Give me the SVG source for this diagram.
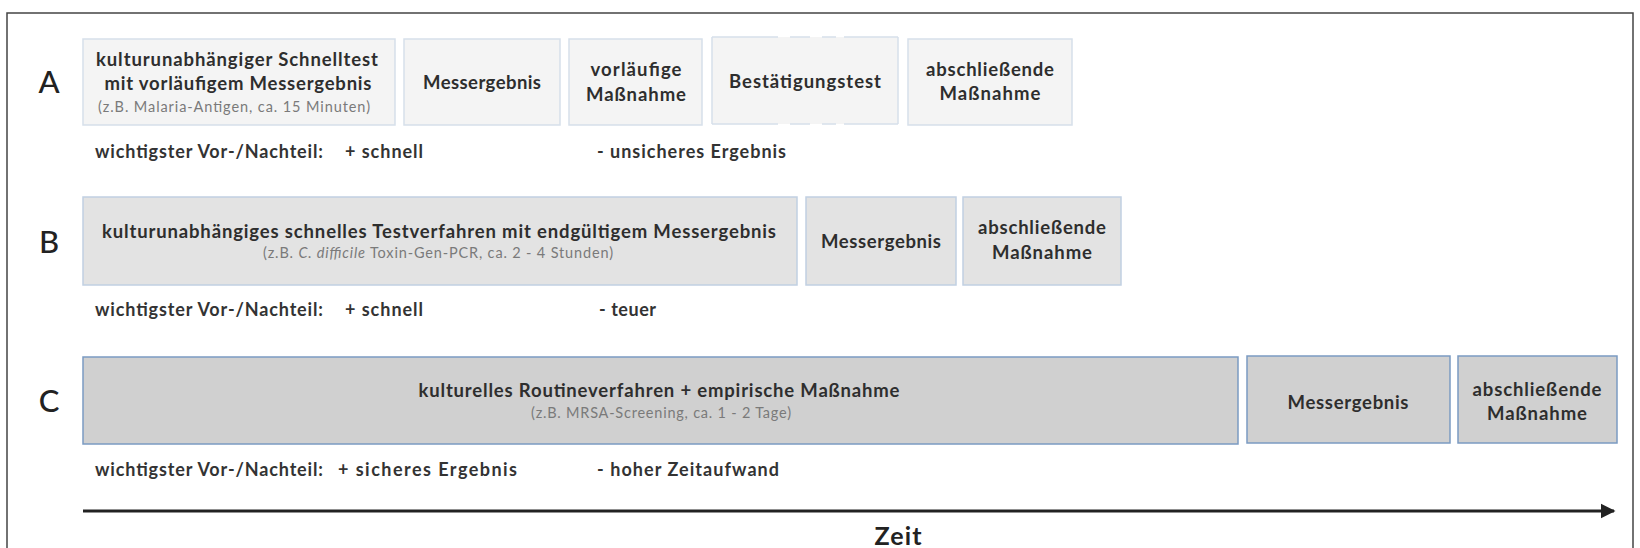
<svg xmlns="http://www.w3.org/2000/svg" width="1640" height="548" viewBox="0 0 1640 548">
<defs>
<style>
.t{font-family:Lato,"Liberation Sans",sans-serif;font-weight:700;fill:#2e2e2e;font-size:18.5px;text-anchor:middle}
.s{font-family:Lato,"Liberation Sans",sans-serif;font-weight:400;fill:#7a7a7a;font-size:14.5px;text-anchor:middle}
.r{font-family:Lato,"Liberation Sans",sans-serif;font-weight:700;fill:#333;font-size:18px}
.L{font-family:Lato,"Liberation Sans",sans-serif;font-weight:500;fill:#222;font-size:31px;text-anchor:middle}
.ba{fill:#f4f4f4;stroke:#d6dfea;stroke-width:1.5}
.bb{fill:#e3e3e3;stroke:#c1d0e2;stroke-width:1.5}
.bc{fill:#d0d0d0;stroke:#7b9bc2;stroke-width:1.5}
</style>
<marker id="ah" viewBox="0 0 10 10" refX="9" refY="5" markerWidth="5" markerHeight="5.5" orient="auto" markerUnits="strokeWidth">
<path d="M0,0 L10,5 L0,10 Z" fill="#222"/>
</marker>
</defs>
<rect width="1640" height="548" fill="#fff"/>
<path d="M7,548 V13 H1633 V548" fill="none" stroke="#444" stroke-width="1.5"/>

<g id="labels">
<text class="L" x="49" y="93">A</text>
<text class="L" x="49" y="253">B</text>
<text class="L" x="49" y="412">C</text>
</g>

<g id="rowA">
<g id="A1"><rect class="ba" x="83" y="39" width="312" height="86"/>
<text class="t" x="237" y="66" textLength="282">kulturunabhängiger Schnelltest</text>
<text class="t" x="238" y="90" textLength="267">mit vorläufigem Messergebnis</text>
<text class="s" x="234" y="112" textLength="272">(z.B. Malaria-Antigen, ca. 15 Minuten)</text></g>
<g id="A2"><rect class="ba" x="404" y="39" width="156" height="86"/>
<text class="t" x="482" y="89" textLength="118">Messergebnis</text></g>
<g id="A3"><rect class="ba" x="569" y="39" width="133" height="86"/>
<text class="t" x="636" y="76" textLength="91">vorläufige</text>
<text class="t" x="636" y="101" textLength="100">Maßnahme</text></g>
<g id="A4"><rect x="712" y="37" width="186" height="87" fill="#f4f4f4"/>
<path d="M712,37 V124 M898,37 V124 M712,37 H778 M790,37 H810 M822,37 H836 M844,37 H898 M712,124 H778 M790,124 H810 M822,124 H836 M844,124 H898" fill="none" stroke="#d6dfea" stroke-width="1.5"/>
<text class="t" x="805" y="88" textLength="152">Bestätigungstest</text></g>
<g id="A5"><rect class="ba" x="908" y="39" width="164" height="86"/>
<text class="t" x="990" y="76" textLength="128">abschließende</text>
<text class="t" x="990" y="100" textLength="101">Maßnahme</text></g>
<text class="r" x="95" y="158" textLength="228">wichtigster Vor-/Nachteil:</text>
<text class="r" x="345" y="158" textLength="78">+ schnell</text>
<text class="r" x="597" y="158" textLength="189">- unsicheres Ergebnis</text>
</g>

<g id="rowB">
<g id="B1"><rect class="bb" x="83" y="197" width="714" height="88"/>
<text class="t" x="439" y="238" textLength="674">kulturunabhängiges schnelles Testverfahren mit endgültigem Messergebnis</text>
<text class="s" x="438" y="258" textLength="350">(z.B. <tspan font-style="italic">C. difficile</tspan> Toxin-Gen-PCR, ca. 2 - 4 Stunden)</text></g>
<g id="B2"><rect class="bb" x="806" y="197" width="150" height="88"/>
<text class="t" x="881" y="248" textLength="120">Messergebnis</text></g>
<g id="B3"><rect class="bb" x="963" y="197" width="158" height="88"/>
<text class="t" x="1042" y="234" textLength="128">abschließende</text>
<text class="t" x="1042" y="259" textLength="100">Maßnahme</text></g>
<text class="r" x="95" y="316" textLength="228">wichtigster Vor-/Nachteil:</text>
<text class="r" x="345" y="316" textLength="78">+ schnell</text>
<text class="r" x="599" y="316" textLength="57">- teuer</text>
</g>

<g id="rowC">
<g id="C1"><rect class="bc" x="83" y="357" width="1155" height="87"/>
<text class="t" x="659" y="397" textLength="481">kulturelles Routineverfahren + empirische Maßnahme</text>
<text class="s" x="661" y="418" textLength="260">(z.B. MRSA-Screening, ca. 1 - 2 Tage)</text></g>
<g id="C2"><rect class="bc" x="1247" y="356" width="203" height="87"/>
<text class="t" x="1348" y="409" textLength="121">Messergebnis</text></g>
<g id="C3"><rect class="bc" x="1458" y="356" width="159" height="87"/>
<text class="t" x="1537" y="396" textLength="129">abschließende</text>
<text class="t" x="1537" y="420" textLength="100">Maßnahme</text></g>
<text class="r" x="95" y="476" textLength="228">wichtigster Vor-/Nachteil:</text>
<text class="r" x="338" y="476" textLength="179">+ sicheres Ergebnis</text>
<text class="r" x="597" y="476" textLength="182">- hoher Zeitaufwand</text>
</g>

<g id="connectors">
<line x1="83" y1="511" x2="1614" y2="511" stroke="#222" stroke-width="3" marker-end="url(#ah)"/>
</g>
<text x="898" y="545" textLength="47" style="font-family:Lato,'Liberation Sans',sans-serif;font-weight:700;font-size:25px;fill:#222;text-anchor:middle">Zeit</text>
</svg>
